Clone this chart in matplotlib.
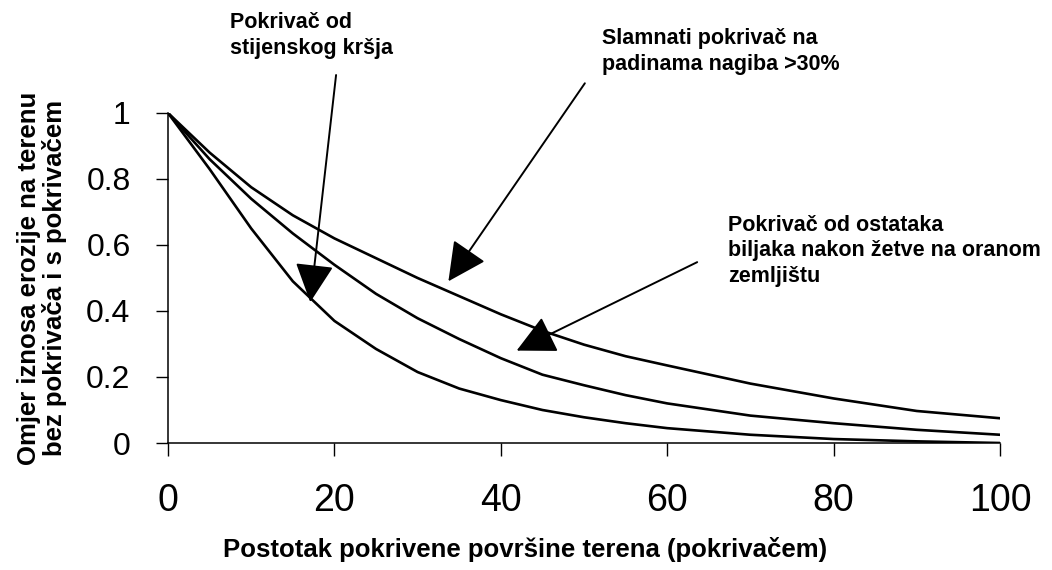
import matplotlib
matplotlib.use("Agg")
import matplotlib.pyplot as plt

# postotak pokrivenosti (%)
x = [0, 5, 10, 15, 20, 25, 30, 35, 40, 45, 50, 55, 60, 70, 80, 90, 100]

# omjer erozije za tri vrste pokrivaca
slamnati = [1.0, 0.88, 0.775, 0.69, 0.62, 0.56, 0.50, 0.445, 0.39, 0.34, 0.298, 0.263, 0.235, 0.18, 0.135, 0.097, 0.075]
ostaci = [1.0, 0.86, 0.74, 0.635, 0.54, 0.452, 0.378, 0.315, 0.257, 0.207, 0.175, 0.145, 0.12, 0.083, 0.06, 0.04, 0.025]
krsje = [1.0, 0.83, 0.65, 0.49, 0.37, 0.285, 0.215, 0.165, 0.13, 0.10, 0.078, 0.06, 0.045, 0.025, 0.012, 0.005, 0.0]

xticks = [0, 20, 40, 60, 80, 100]
yticks = [0, 0.2, 0.4, 0.6, 0.8, 1.0]
ytick_labels = ["0", "0.2", "0.4", "0.6", "0.8", "1"]

plt.rcParams['font.family'] = ['Liberation Sans', 'DejaVu Sans']

fig = plt.figure(figsize=(10.52, 5.70), dpi=100)
ax = fig.add_axes([0.1597, 0.2228, 0.7909, 0.579])

for y in (slamnati, ostaci, krsje):
    ax.plot(x, y, color="black", lw=1.9, solid_capstyle="round", solid_joinstyle="round")

ax.set_xlim(0, 100)
ax.set_ylim(0, 1)
ax.set_xticks(xticks)
ax.set_xticklabels([str(t) for t in xticks], fontsize=27)
ax.set_yticks(yticks)
ax.set_yticklabels(ytick_labels, fontsize=23)
ax.tick_params(axis="x", length=9, width=1, pad=20)
ax.tick_params(axis="y", length=9, width=1, pad=18)
for s in ("top", "right"):
    ax.spines[s].set_visible(False)
for s in ("left", "bottom"):
    ax.spines[s].set_linewidth(1.1)

ax.set_xlabel("Postotak pokrivene površine terena (pokrivačem)",
              fontsize=18.5, fontweight="bold")
ax.xaxis.set_label_coords(0.429, -0.285)
ax.xaxis.label.set_va("top")
ax.set_ylabel("Omjer iznosa erozije na terenu\nbez pokrivača i s pokrivačem",
              fontsize=18.5, fontweight="bold", labelpad=14, linespacing=1.05)

arrow = dict(arrowstyle="-|>,head_length=1.1,head_width=0.55",
             color="black", lw=1.4, mutation_scale=22, shrinkA=0, shrinkB=0)

notes = [
    ("Pokrivač od\nstijenskog kršja", (17.1, 0.427), (20.2, 1.115), (7.5, 1.305)),
    ("Slamnati pokrivač na\npadinama nagiba >30%", (33.7, 0.49), (50.1, 1.09), (52.2, 1.258)),
    ("Pokrivač od ostataka\nbiljaka nakon žetve na oranom\nzemljištu", (41.9, 0.28), (63.6, 0.548), (67.3, 0.692)),
]
for text, tip, tail, pos in notes:
    ax.annotate("", xy=tip, xytext=tail, arrowprops=arrow, annotation_clip=False)
    ax.text(pos[0], pos[1], text, fontsize=15.5, fontweight="bold",
            ha="left", va="top", linespacing=1.3, clip_on=False)

fig.savefig("out.png", dpi=100)
